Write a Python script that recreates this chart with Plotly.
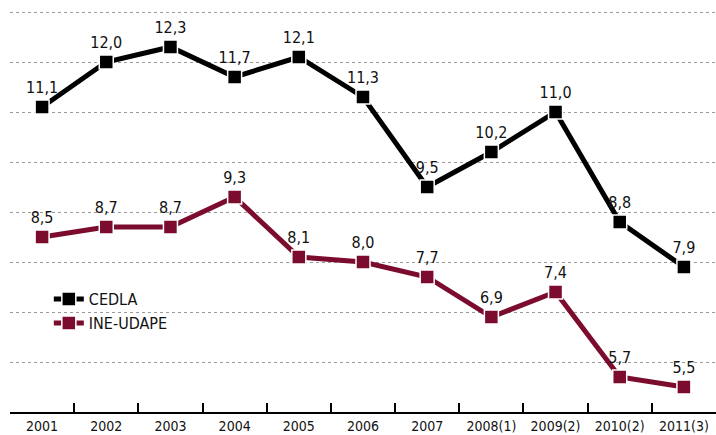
import plotly.graph_objects as go

years = ["2001", "2002", "2003", "2004", "2005", "2006", "2007",
         "2008(1)", "2009(2)", "2010(2)", "2011(3)"]
cedla = [11.1, 12.0, 12.3, 11.7, 12.1, 11.3, 9.5, 10.2, 11.0, 8.8, 7.9]
ine_udape = [8.5, 8.7, 8.7, 9.3, 8.1, 8.0, 7.7, 6.9, 7.4, 5.7, 5.5]

FONT = "DejaVu Sans Condensed, Liberation Sans Narrow, sans-serif"
BLACK = "#000000"
MAROON = "#7b0c2d"


def series(name, values, color):
    return go.Scatter(
        x=years, y=values, name=name, mode="lines+markers+text",
        line=dict(color=color, width=5),
        marker=dict(symbol="square", size=14, color=color,
                    line=dict(color="white", width=1.5)),
        texttemplate="%{y:.1f}", textposition="top center",
        textfont=dict(family=FONT, size=16, color="#111111"),
        cliponaxis=False,
    )


fig = go.Figure([series("CEDLA", cedla, BLACK),
                 series("INE-UDAPE", ine_udape, MAROON)])

fig.update_layout(
    width=716, height=435,
    margin=dict(l=10, r=0, t=0, b=23, autoexpand=False),
    paper_bgcolor="white", plot_bgcolor="white",
    separators=",.",
    font=dict(family=FONT, size=14, color="#111111"),
    showlegend=True,
    legend=dict(x=0.055, y=0.315, xanchor="left", yanchor="top",
                bgcolor="rgba(0,0,0,0)", font=dict(family=FONT, size=16),
                tracegroupgap=6, itemwidth=30),
    xaxis=dict(
        type="category", range=[-0.5, 10.5],
        showgrid=False, zeroline=False, automargin=False,
        showline=True, linecolor=BLACK, linewidth=2,
        ticks="inside", tickson="boundaries", ticklen=9,
        tickwidth=2, tickcolor=BLACK, tickangle=0,
        tickfont=dict(family=FONT, size=14, color="#111111"),
    ),
    yaxis=dict(
        range=[5, 13.24], dtick=1, tick0=5, automargin=False,
        showticklabels=False, ticks="",
        showgrid=True, gridcolor="#9a9a9a", gridwidth=1, griddash="dot",
        zeroline=False, showline=False,
    ),
)

fig.write_html("out.html")
